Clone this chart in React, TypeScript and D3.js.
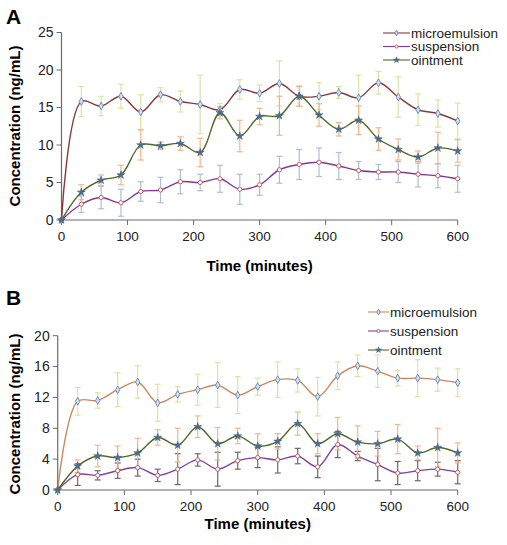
import React from "react";
import * as d3 from "d3";

const times = [0, 30, 60, 90, 120, 150, 180, 210, 240, 270, 300, 330, 360, 390, 420, 450, 480, 510, 540, 570, 600];
const seriesNames = ["microemulsion", "suspension", "ointment"];
const xTicks = [0, 100, 200, 300, 400, 500, 600];
const yTicksA = [0, 5, 10, 15, 20, 25];
const yTicksB = [0, 4, 8, 12, 16, 20];

const aMicro = [0, 15.8, 15.2, 16.5, 14.4, 16.7, 15.8, 15.4, 14.7, 17.4, 16.9, 18.2, 16.5, 16.5, 17.0, 16.3, 18.3, 16.4, 14.7, 14.2, 13.2];
const aMicroErr = [0, 2.0, 1.3, 1.6, 2.3, 0.95, 1.4, 3.9, 0.8, 1.3, 1.1, 3.0, 1.4, 1.8, 0.8, 3.0, 1.5, 2.7, 2.1, 1.8, 2.4];
const aSusp = [0, 2.1, 3.0, 2.3, 3.8, 4.0, 5.1, 5.0, 5.5, 4.1, 4.7, 6.7, 7.4, 7.7, 7.2, 6.6, 6.4, 6.4, 6.1, 5.9, 5.5];
const aSuspErr = [0, 1.1, 1.5, 1.8, 1.3, 1.7, 1.6, 1.1, 1.8, 2.0, 1.4, 1.8, 2.0, 1.9, 1.8, 1.2, 1.0, 1.4, 1.7, 1.6, 1.8];
const aOint = [0, 3.7, 5.3, 6.0, 10.0, 9.9, 10.2, 9.0, 14.3, 11.2, 13.8, 13.9, 16.5, 14.0, 12.1, 13.3, 10.8, 9.4, 8.4, 9.6, 9.2];
const aOintErr = [0, 1.0, 0.7, 1.3, 2.0, 0.5, 0.9, 1.9, 0.8, 2.1, 1.1, 2.6, 1.3, 1.5, 0.9, 1.9, 1.5, 1.4, 0.8, 2.1, 1.5];

const bMicro = [0, 11.5, 11.6, 13.0, 14.0, 11.3, 12.4, 13.0, 13.6, 12.3, 13.4, 14.3, 14.2, 12.1, 14.8, 16.1, 15.4, 14.5, 14.5, 14.3, 13.9];
const bMicroErr = [0, 1.8, 1.0, 2.2, 2.1, 2.4, 1.0, 2.0, 2.9, 2.4, 1.1, 2.3, 1.5, 2.5, 1.8, 1.4, 2.1, 1.0, 2.4, 1.5, 1.8];
const bSusp = [0, 2.0, 1.9, 2.5, 2.9, 1.9, 2.7, 3.9, 2.7, 3.8, 4.2, 3.9, 4.4, 3.0, 5.9, 4.4, 3.3, 2.2, 2.5, 2.7, 2.3];
const bSuspErr = [0, 1.4, 0.6, 1.0, 1.1, 0.8, 2.0, 0.8, 2.2, 1.1, 1.3, 1.7, 1.0, 1.4, 1.7, 0.6, 2.1, 1.5, 1.3, 0.9, 1.5];
const bOint = [0, 3.1, 4.4, 4.2, 4.8, 6.8, 5.8, 8.2, 6.0, 7.0, 5.7, 6.3, 8.6, 6.0, 7.3, 6.2, 6.0, 6.6, 4.8, 5.5, 4.8];
const bOintErr = [0, 0.8, 1.4, 1.5, 1.9, 1.0, 2.2, 1.4, 2.1, 1.0, 1.6, 1.0, 1.5, 1.3, 2.1, 2.1, 1.6, 1.9, 0.9, 2.5, 1.3];

const FONT = "'Liberation Sans', Arial, sans-serif";
const AXIS = "#6b6b6b";

type Series = { values: number[]; errs: number[]; line: string; err: string };

function Marker({ kind, x, y, s = 1 }: { kind: string; x: number; y: number; s?: number }) {
  if (kind === "microemulsion") {
    const p = d3.symbol().type(d3.symbolDiamond).size(17 * s * s)();
    return <path d={p || ""} transform={`translate(${x},${y})`} fill="#cfe0f2" stroke="#6685ad" strokeWidth={0.9} />;
  }
  if (kind === "suspension") {
    return <circle cx={x} cy={y} r={2.1 * s} fill="#ffffff" stroke="#c0504d" strokeWidth={0.9} />;
  }
  const p = d3.symbol().type(d3.symbolStar).size(20 * s * s)();
  return <path d={p || ""} transform={`translate(${x},${y})`} fill="#4b6e8c" stroke="#3e5f7a" strokeWidth={0.5} />;
}

function Panel({
  letter, letterY, x0, x1, yTop, yBottom, yMax, yTicks, series, legendX, legendTextX, legendYs, xTitleY, yTitleY,
}: {
  letter: string; letterY: number; x0: number; x1: number; yTop: number; yBottom: number; yMax: number; yTicks: number[];
  series: Series[]; legendX: [number, number]; legendTextX: number; legendYs: number[]; xTitleY: number; yTitleY: number;
}) {
  const x = d3.scaleLinear().domain([0, 600]).range([x0, x1]);
  const y = d3.scaleLinear().domain([0, yMax]).range([yBottom, yTop]);
  const line = d3
    .line<number>()
    .x((_, i) => x(times[i]))
    .y((v) => y(v))
    .curve(d3.curveCatmullRom.alpha(0.5));
  return (
    <g>
      <text x={6} y={letterY} fontFamily={FONT} fontWeight="bold" fontSize={21}>{letter}</text>
      <line x1={x0} x2={x0} y1={y(yMax)} y2={yBottom} stroke={AXIS} strokeWidth={1.2} />
      <line x1={x0} x2={x1} y1={yBottom} y2={yBottom} stroke={AXIS} strokeWidth={1.2} />
      {yTicks.map((t) => (
        <g key={"y" + t}>
          <line x1={x0 - 5} x2={x0} y1={y(t)} y2={y(t)} stroke={AXIS} strokeWidth={1} />
          <text x={x0 - 8} y={y(t)} dy="0.35em" textAnchor="end" fontFamily={FONT} fontSize={14} fill="#222">{t}</text>
        </g>
      ))}
      {xTicks.map((t) => (
        <g key={"x" + t}>
          <line x1={x(t)} x2={x(t)} y1={yBottom} y2={yBottom + 5} stroke={AXIS} strokeWidth={1} />
          <text x={x(t)} y={yBottom + 16} dy="0.35em" textAnchor="middle" fontFamily={FONT} fontSize={13.5} fill="#222">{t}</text>
        </g>
      ))}
      <text x={(x0 + x1) / 2} y={xTitleY} dy="0.35em" textAnchor="middle" fontFamily={FONT} fontWeight="bold" fontSize={15}>Time (minutes)</text>
      <text transform={`translate(15,${yTitleY}) rotate(-90)`} dy="0.35em" textAnchor="middle" fontFamily={FONT} fontWeight="bold" fontSize={15}>Concentration (ng/mL)</text>
      {series.map((s, si) => (
        <g key={"e" + si}>
          {s.values.map((v, i) =>
            s.errs[i] > 0 ? (
              <g key={i} stroke={s.err} strokeWidth={1.2} opacity={0.9}>
                <line x1={x(times[i])} x2={x(times[i])} y1={y(v + s.errs[i])} y2={y(v - s.errs[i])} />
                <line x1={x(times[i]) - 3} x2={x(times[i]) + 3} y1={y(v + s.errs[i])} y2={y(v + s.errs[i])} />
                <line x1={x(times[i]) - 3} x2={x(times[i]) + 3} y1={y(v - s.errs[i])} y2={y(v - s.errs[i])} />
              </g>
            ) : null
          )}
        </g>
      ))}
      {series.map((s, si) => (
        <path key={"l" + si} d={line(s.values) || ""} fill="none" stroke={s.line} strokeWidth={1.4} />
      ))}
      {series.map((s, si) => (
        <g key={"m" + si}>
          {s.values.map((v, i) => (
            <Marker key={i} kind={seriesNames[si]} x={x(times[i])} y={y(v)} />
          ))}
        </g>
      ))}
      {series.map((s, si) => (
        <g key={"lg" + si}>
          <line x1={legendX[0]} x2={legendX[1]} y1={legendYs[si]} y2={legendYs[si]} stroke={s.line} strokeWidth={1.1} />
          <Marker kind={seriesNames[si]} x={(legendX[0] + legendX[1]) / 2} y={legendYs[si]} s={0.75} />
          <text x={legendTextX} y={legendYs[si]} dy="0.35em" fontFamily={FONT} fontSize={13.5} fill="#222">{seriesNames[si]}</text>
        </g>
      ))}
    </g>
  );
}

export default function App() {
  const seriesA: Series[] = [
    { values: aMicro, errs: aMicroErr, line: "#853a3a", err: "#d6e39a" },
    { values: aSusp, errs: aSuspErr, line: "#7a3aa0", err: "#a5b8d6" },
    { values: aOint, errs: aOintErr, line: "#4f6a2a", err: "#f2ae80" },
  ];
  const seriesB: Series[] = [
    { values: bMicro, errs: bMicroErr, line: "#c78a5e", err: "#d6e39a" },
    { values: bSusp, errs: bSuspErr, line: "#8040a8", err: "#5a5a5a" },
    { values: bOint, errs: bOintErr, line: "#4f6a2a", err: "#f2ae80" },
  ];
  return (
    <svg width={507} height={545} style={{ position: "absolute", left: 0, top: 0, background: "#fff" }}>
      <Panel letter="A" letterY={24} x0={61.5} x1={457.7} yTop={32.5} yBottom={220} yMax={25} yTicks={yTicksA}
        series={seriesA} legendX={[383, 410]} legendTextX={411} legendYs={[33, 46.5, 60]} xTitleY={266} yTitleY={126} />
      <Panel letter="B" letterY={305} x0={57.7} x1={457.7} yTop={335.7} yBottom={490} yMax={20} yTicks={yTicksB}
        series={seriesB} legendX={[368, 389]} legendTextX={390} legendYs={[312, 331, 350]} xTitleY={524} yTitleY={414} />
    </svg>
  );
}
